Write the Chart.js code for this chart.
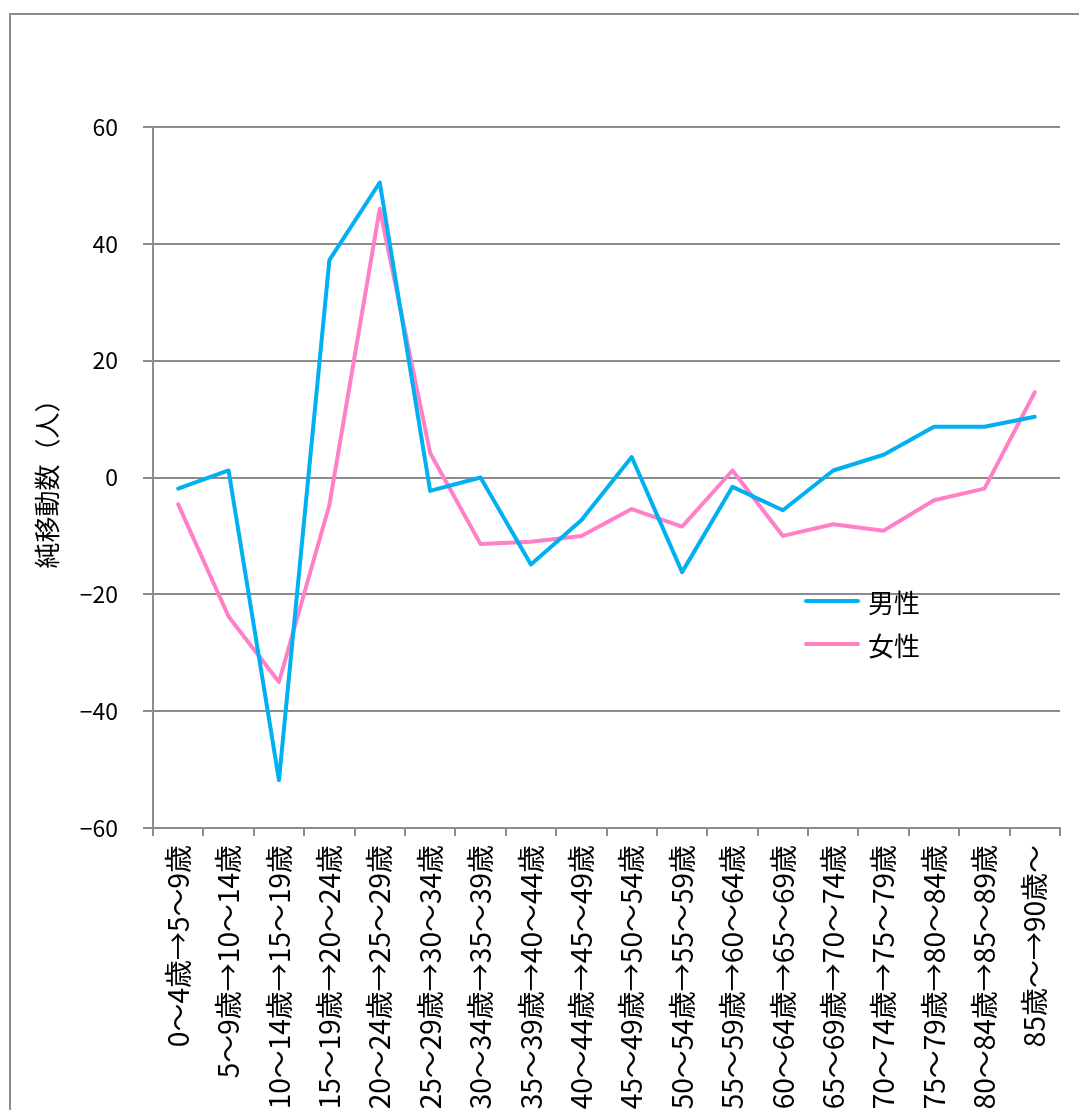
<!DOCTYPE html>
<html lang="ja">
<head>
<meta charset="utf-8">
<title>年齢階級別純移動数</title>
<script src="https://cdn.jsdelivr.net/npm/chart.js@4/dist/chart.umd.min.js"></script>
<style>
  html, body { margin: 0; padding: 0; background: #ffffff; overflow: hidden; }
  #wrap { position: relative; width: 1079px; height: 1110px; }
</style>
</head>
<body>
<div id="wrap"><canvas id="chart" width="1079" height="1110"></canvas></div>
<script>
// 年齢階級の移動（5年前 → 現在）
const categories = [
  '0～4歳→5～9歳', '5～9歳→10～14歳', '10～14歳→15～19歳', '15～19歳→20～24歳',
  '20～24歳→25～29歳', '25～29歳→30～34歳', '30～34歳→35～39歳', '35～39歳→40～44歳',
  '40～44歳→45～49歳', '45～49歳→50～54歳', '50～54歳→55～59歳', '55～59歳→60～64歳',
  '60～64歳→65～69歳', '65～69歳→70～74歳', '70～74歳→75～79歳', '75～79歳→80～84歳',
  '80～84歳→85～89歳', '85歳～→90歳～'
];

// 純移動数（人）
const maleValues = [
  -1.9, 1.2, -51.8, 37.2, 50.5, -2.3, 0.0, -14.9, -7.3,
  3.5, -16.2, -1.6, -5.6, 1.2, 3.9, 8.7, 8.7, 10.4
];
const femaleValues = [
  -4.6, -23.8, -35.0, -4.7, 46.0, 4.2, -11.4, -11.0, -10.0,
  -5.4, -8.4, 1.2, -10.0, -8.0, -9.1, -3.9, -1.9, 14.6
];

const seriesNames = ['男性', '女性'];
const axisTitle = '純移動数（人）';
const yTickValues = [-60, -40, -20, 0, 20, 40, 60];

const FONT = '"Noto Sans CJK JP", "Noto Sans", sans-serif';
const GRID = '#8c8c8c';

// 外枠
const framePlugin = {
  id: 'frame',
  beforeDraw(chart) {
    const ctx = chart.ctx;
    ctx.save();
    ctx.strokeStyle = GRID;
    ctx.lineWidth = 2;
    ctx.strokeRect(10, 14, chart.width + 20, chart.height + 20);
    ctx.restore();
  }
};

// 凡例（グラフ内右側）
const inlineLegend = {
  id: 'inlineLegend',
  afterDatasetsDraw(chart) {
    const ctx = chart.ctx;
    const x0 = 806, lineLen = 52, gap = 10, top = 601, step = 43;
    ctx.save();
    ctx.font = '26px ' + FONT;
    ctx.textBaseline = 'middle';
    ctx.textAlign = 'left';
    chart.data.datasets.forEach((ds, i) => {
      const y = top + i * step;
      ctx.strokeStyle = ds.borderColor;
      ctx.lineWidth = 4;
      ctx.lineCap = 'round';
      ctx.beginPath();
      ctx.moveTo(x0, y);
      ctx.lineTo(x0 + lineLen, y);
      ctx.stroke();
      ctx.fillStyle = '#000000';
      ctx.fillText(ds.label, x0 + lineLen + gap, y + 2);
    });
    ctx.restore();
  }
};

new Chart(document.getElementById('chart'), {
  type: 'line',
  data: {
    labels: categories,
    datasets: [
      {
        label: seriesNames[0],
        data: maleValues,
        borderColor: '#00B0F0',
        backgroundColor: '#00B0F0',
        borderWidth: 4,
        pointRadius: 0,
        tension: 0,
        borderCapStyle: 'round',
        borderJoinStyle: 'round',
        fill: false
      },
      {
        label: seriesNames[1],
        data: femaleValues,
        borderColor: '#FF80C6',
        backgroundColor: '#FF80C6',
        borderWidth: 4,
        pointRadius: 0,
        tension: 0,
        borderCapStyle: 'round',
        borderJoinStyle: 'round',
        fill: false
      }
    ]
  },
  options: {
    responsive: false,
    animation: false,
    devicePixelRatio: 1,
    layout: { padding: { top: 127, right: 19, bottom: 0, left: 0 } },
    plugins: {
      legend: { display: false },
      tooltip: { enabled: false }
    },
    scales: {
      x: {
        type: 'category',
        offset: true,
        grid: {
          display: true,
          drawOnChartArea: false,
          drawTicks: true,
          tickLength: 8,
          offset: true,
          color: GRID,
          lineWidth: 2
        },
        border: { display: true, color: GRID, width: 2 },
        ticks: {
          autoSkip: false,
          minRotation: 90,
          maxRotation: 90,
          padding: 9,
          color: '#000000',
          font: { family: FONT, size: 28 }
        },
        afterFit(scale) { scale.height = 282; }
      },
      y: {
        min: -60,
        max: 60,
        afterBuildTicks(scale) {
          scale.ticks = yTickValues.map(v => ({ value: v }));
        },
        grid: {
          display: true,
          drawOnChartArea: true,
          drawTicks: true,
          tickLength: 10,
          color: GRID,
          lineWidth: 2
        },
        border: { display: true, color: GRID, width: 2 },
        ticks: {
          padding: 25,
          color: '#000000',
          font: { family: FONT, size: 23 },
          callback: v => String(v).replace('-', '−')
        },
        title: {
          display: true,
          text: axisTitle,
          color: '#000000',
          font: { family: FONT, size: 26 },
          padding: { top: 32, bottom: 0 }
        },
        afterFit(scale) { scale.width = 153; }
      }
    }
  },
  plugins: [framePlugin, inlineLegend]
});
</script>
</body>
</html>
